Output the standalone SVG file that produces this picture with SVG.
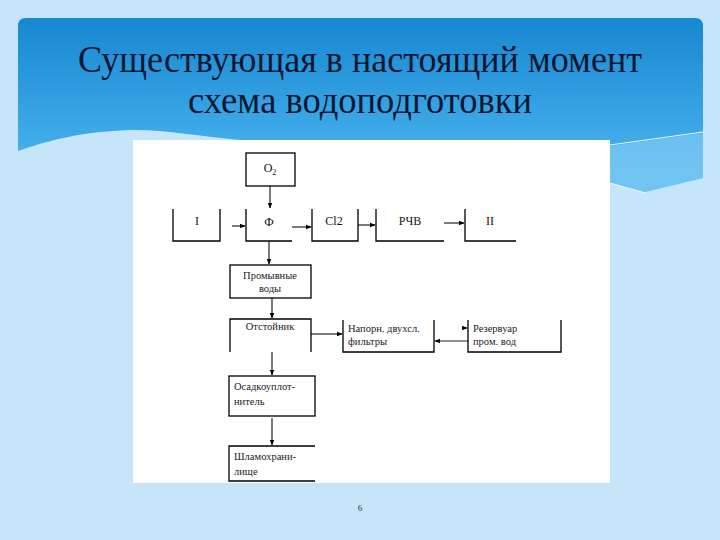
<svg xmlns="http://www.w3.org/2000/svg" width="720" height="540" viewBox="0 0 720 540">
<defs>
<linearGradient id="band" x1="0" y1="0" x2="0" y2="1">
<stop offset="0" stop-color="#1787d0"/>
<stop offset="0.6" stop-color="#3aa6e6"/>
<stop offset="1" stop-color="#56bbf0"/>
</linearGradient>
<marker id="ah" viewBox="0 0 10 10" refX="9" refY="5" markerWidth="6" markerHeight="6" orient="auto" markerUnits="userSpaceOnUse">
<path d="M0,1 L10,5 L0,9 Z" fill="#000"/>
</marker>
<style>
.ln{fill:none;stroke:#000;stroke-width:1.3}
.cn{fill:none;stroke:#222;stroke-width:1.2;marker-end:url(#ah)}
.t{font-family:"Liberation Serif","DejaVu Serif",serif;font-size:12px;fill:#111}
.tc{text-anchor:middle}
.s{font-family:"Liberation Serif","DejaVu Serif",serif;font-size:10.5px;fill:#222}
.title{font-family:"Liberation Serif","DejaVu Serif",serif;font-size:38px;fill:#0b1630;text-anchor:middle}
</style>
</defs>
<rect x="0" y="0" width="720" height="540" fill="#c6e5f8"/>
<path d="M18,26 Q18,18 26,18 H695 Q703,18 703,26 V178 L645,192 L610,183 V140 L18,151 Z" fill="url(#band)"/>
<path d="M18,151 C50,140 80,132 130,130 C160,129 200,136 240,140 L610,140 V160 L18,160 Z" fill="#c6e5f8"/>
<path d="M610,146 L703,133 V178 L645,192 L610,183 Z" fill="#7fcbf3" opacity="0.7"/>
<path d="M610,145 L703,132" stroke="#e8f7ff" stroke-width="1" fill="none"/>
<path d="M610,183 L645,193" stroke="#e8f7ff" stroke-width="1" fill="none"/>
<text class="title" x="360" y="72" textLength="564" lengthAdjust="spacingAndGlyphs">Существующая в настоящий момент</text>
<text class="title" x="360" y="113" textLength="344" lengthAdjust="spacingAndGlyphs">схема водоподготовки</text>
<rect x="133" y="140" width="477" height="343" fill="#ffffff"/>
<g id="connectors">
<path class="cn" d="M270,186 V208"/>
<path class="cn" d="M232,226 H245"/>
<path class="cn" d="M292,227 H311"/>
<path class="cn" d="M358,225 H375"/>
<path class="cn" d="M444,223 H464"/>
<path class="cn" d="M269,241 V264"/>
<path class="cn" d="M272,298 V318"/>
<path class="cn" d="M311,334 H342"/>
<path class="cn" d="M468,341 H435"/>
<path class="cn" d="M462,328 H467"/>
<path class="cn" d="M272,352 V375"/>
<path class="cn" d="M272,418 V445"/>
</g>
<g id="n-o2"><rect class="ln" x="246" y="153" width="49" height="33"/><text class="t tc" x="270" y="172">O<tspan font-size="8" dy="3">2</tspan></text></g>
<g id="n-i"><path class="ln" d="M173,209 V241 H220 V209"/><text class="t tc" x="197" y="225">I</text></g>
<g id="n-f"><path class="ln" d="M246,209 V241 H292"/><text class="t tc" x="269" y="226">Ф</text></g>
<g id="n-cl2"><path class="ln" d="M312,209 V241 H358 V209"/><text class="t tc" x="334" y="225">Cl2</text></g>
<g id="n-rchv"><path class="ln" d="M376,209 V241 H444"/><text class="t tc" x="410" y="225">РЧВ</text></g>
<g id="n-ii"><path class="ln" d="M465,209 V241 H516"/><text class="t tc" x="490" y="225">II</text></g>
<g id="n-prom"><rect class="ln" x="230" y="265" width="81" height="33"/><text class="s tc" x="270" y="279">Промывные</text><text class="s tc" x="270" y="292">воды</text></g>
<g id="n-otst"><path class="ln" d="M230,352 V319 H311 V352"/><text class="s tc" x="270" y="330">Отстойник</text></g>
<g id="n-napor"><path class="ln" d="M343,320 V352 H434 V320"/><text class="s" x="348" y="332">Напорн. двухсл.</text><text class="s" x="348" y="345">фильтры</text></g>
<g id="n-rez"><path class="ln" d="M468,320 V352 H561 V320"/><text class="s" x="473" y="332">Резервуар</text><text class="s" x="473" y="345">пром. вод</text></g>
<g id="n-osad"><rect class="ln" x="229" y="376" width="86" height="40"/><text class="s" x="234" y="390">Осадкоуплот-</text><text class="s" x="234" y="405">нитель</text></g>
<g id="n-shlam"><path class="ln" d="M315,446 H229 V481 H315"/><text class="s" x="234" y="460">Шламохрани-</text><text class="s" x="234" y="475">лище</text></g>
<text x="360" y="511" font-family="Liberation Serif, DejaVu Serif, serif" font-size="9" fill="#333" text-anchor="middle">6</text>
</svg>
